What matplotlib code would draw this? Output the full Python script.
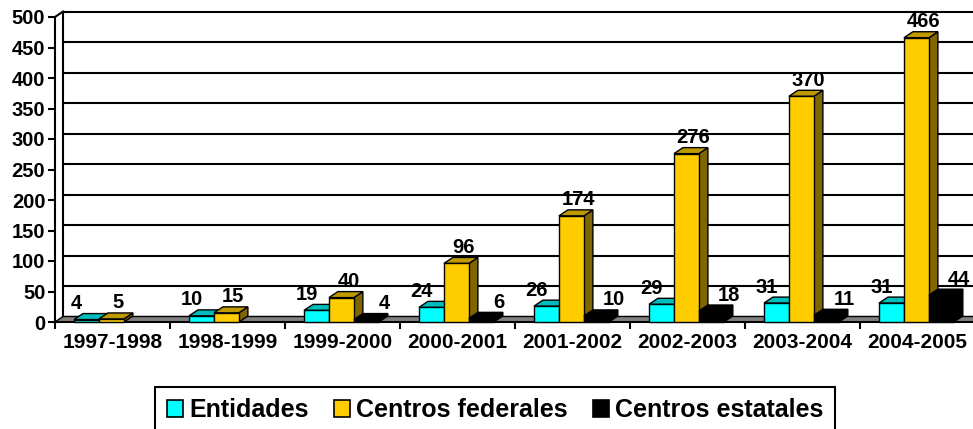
import numpy as np
import matplotlib
matplotlib.use("Agg")
import matplotlib.pyplot as plt
from matplotlib.patches import Polygon, Patch
from matplotlib.transforms import ScaledTranslation

plt.rcParams['font.family'] = ['Liberation Sans', 'DejaVu Sans']
plt.rcParams['font.weight'] = 'bold'

# ---- data ----
categories = ['1997-1998', '1998-1999', '1999-2000', '2000-2001',
              '2001-2002', '2002-2003', '2003-2004', '2004-2005']
entidades = [4, 10, 19, 24, 26, 29, 31, 31]
federales = [5, 15, 40, 96, 174, 276, 370, 466]
estatales = [np.nan, np.nan, 4, 6, 10, 18, 11, 44]
series_names = ['Entidades', 'Centros federales', 'Centros estatales']
y_ticks = [0, 50, 100, 150, 200, 250, 300, 350, 400, 450, 500]

# ---- styles ----
front_colors = ['#00FFFF', '#FFCC00', '#000000']
top_colors = ['#00BDBD', '#BF9900', '#000000']
side_colors = ['#008080', '#806600', '#000000']
label_dx_px = [-10, 7, 18]
label_dy_px = 16
BAR_W = 0.217
GROUP_START = 0.165
BAR_DEPTH_PX = (9, 6)
WALL_DEPTH_PX = (8, 5.5)

W, H = 973, 429
fig = plt.figure(figsize=(W / 100, H / 100), dpi=100)
ax = fig.add_axes([55 / W, 107 / H, 920 / W, 305 / H])
ncat = len(categories)
ax.set_xlim(0, ncat)
ax.set_ylim(0, 500)

bbox = ax.get_window_extent()
xpp = ncat / bbox.width
ypp = 500 / bbox.height
bdx, bdy = BAR_DEPTH_PX[0] * xpp, BAR_DEPTH_PX[1] * ypp
wdx, wdy = WALL_DEPTH_PX[0] * xpp, WALL_DEPTH_PX[1] * ypp

back = ax.transData + ScaledTranslation(WALL_DEPTH_PX[0] / 100, WALL_DEPTH_PX[1] / 100,
                                        fig.dpi_scale_trans)

# back wall gridlines
for yv in y_ticks:
    ax.plot([0, ncat + 0.2], [yv, yv], transform=back, color='black', lw=1.5,
            clip_on=False, zorder=0.5, solid_capstyle='butt')
# back-left edge
ax.plot([0, 0], [0, 500], transform=back, color='black', lw=1.5, clip_on=False, zorder=0.6)
# top-left diagonal
ax.plot([0, wdx], [500, 500 + wdy], color='black', lw=1.5, clip_on=False, zorder=0.6)
# floor
floor = Polygon([(0, 0), (ncat + 0.2, 0), (ncat + 0.2 + wdx, wdy), (wdx, wdy)],
                closed=True, facecolor='#808080', edgecolor='black', lw=1.0,
                clip_on=False, zorder=1)
ax.add_patch(floor)

series = [entidades, federales, estatales]
z = 3
for i in range(ncat):
    for k, vals in enumerate(series):
        v = vals[i]
        if v is None or np.isnan(v):
            continue
        x0 = i + GROUP_START + k * BAR_W
        x1 = x0 + BAR_W
        ec = 'black'
        front = Polygon([(x0, 0), (x1, 0), (x1, v), (x0, v)], closed=True,
                        facecolor=front_colors[k], edgecolor=ec, lw=1.0,
                        clip_on=False, zorder=z)
        top = Polygon([(x0, v), (x1, v), (x1 + bdx, v + bdy), (x0 + bdx, v + bdy)],
                      closed=True, facecolor=top_colors[k], edgecolor=ec, lw=1.0,
                      clip_on=False, zorder=z)
        side = Polygon([(x1, 0), (x1 + bdx, bdy), (x1 + bdx, v + bdy), (x1, v)],
                       closed=True, facecolor=side_colors[k], edgecolor=ec, lw=1.0,
                       clip_on=False, zorder=z)
        ax.add_patch(side)
        ax.add_patch(top)
        ax.add_patch(front)
        z += 0.01
        ax.annotate(f'{v:g}', xy=((x0 + x1) / 2, v),
                    xytext=(label_dx_px[k] * 0.72, label_dy_px * 0.72),
                    textcoords='offset points', ha='center', va='center',
                    fontsize=14.5, fontweight='bold', color='black', zorder=10,
                    annotation_clip=False)

# spines / ticks
for s in ['top', 'right']:
    ax.spines[s].set_visible(False)
ax.spines['left'].set_linewidth(1.5)
ax.spines['bottom'].set_linewidth(1.5)
ax.spines['left'].set_zorder(2)
ax.spines['bottom'].set_zorder(2)
ax.set_yticks(y_ticks)
ax.tick_params(axis='y', length=5, width=1.5, labelsize=14.5, pad=2)
ax.set_xticks(np.arange(0, ncat + 1))
ax.set_xticklabels([])
ax.tick_params(axis='x', which='major', length=5, width=1.5)
ax.set_xticks(np.arange(ncat) + 0.5, minor=True)
ax.set_xticklabels(categories, minor=True, fontsize=15, fontweight='bold')
ax.tick_params(axis='x', which='minor', length=0, pad=8)
for lab in ax.get_yticklabels():
    lab.set_fontweight('bold')
ax.patch.set_visible(False)

handles = [Patch(facecolor=c, edgecolor='black', linewidth=1.2) for c in front_colors]
leg = fig.legend(handles, series_names, loc='upper center',
                 bbox_to_anchor=(495 / W, 1 - 387 / H), ncol=3,
                 prop={'size': 18, 'weight': 'bold'}, frameon=True, fancybox=False,
                 edgecolor='black', framealpha=1, handlelength=0.65, handleheight=0.65,
                 handletextpad=0.25, columnspacing=1.0, borderpad=0.45, borderaxespad=0)
leg.get_frame().set_linewidth(1.5)

fig.savefig('out.png', dpi=100)
